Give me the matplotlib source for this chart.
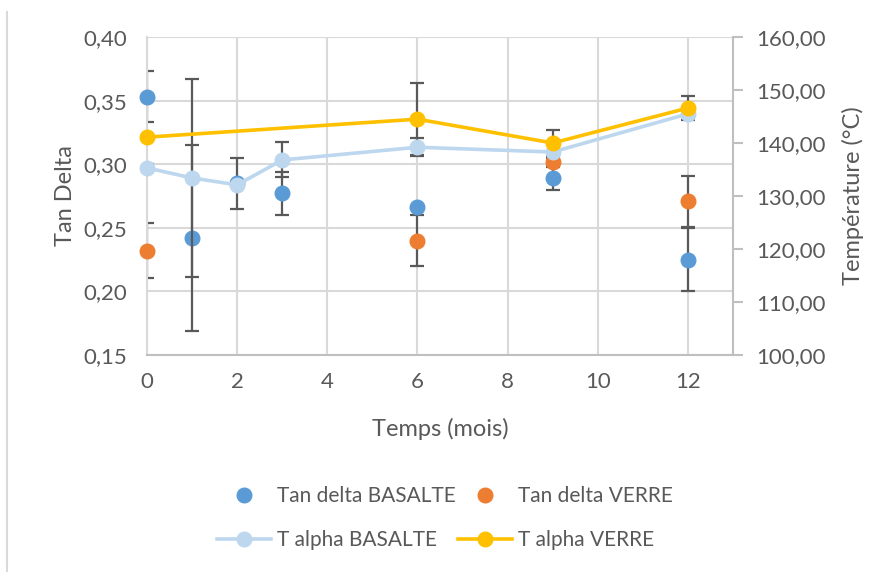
import numpy as np
import matplotlib.pyplot as plt
from matplotlib.lines import Line2D
from matplotlib.ticker import FuncFormatter, MultipleLocator

plt.rcParams['font.family'] = ['Lato', 'DejaVu Sans']

# time (months)
months = [0, 1, 2, 3, 6, 9, 12]
months_verre = [0, 6, 9, 12]

# tan delta (left axis)
tan_basalte = [0.353, 0.242, 0.285, 0.277, 0.266, 0.289, 0.225]
tan_basalte_err = [0.020, 0.073, 0.020, 0.017, 0.0, 0.009, 0.025]
tan_verre = [0.232, 0.240, 0.302, 0.271]
tan_verre_err = [0.0215, 0.020, 0.003, 0.020]

# T alpha (right axis, °C)
talpha_basalte = [135.3, 133.4, 132.1, 136.8, 139.2, 138.3, 145.5]
talpha_basalte_err = [0.8, 18.7, 0.0, 3.3, 1.7, 0.0, 0.5]
talpha_verre = [141.1, 144.5, 140.0, 146.6]
talpha_verre_err = [0.6, 6.8, 2.5, 2.3]

c_blue = '#5B9BD5'
c_orange = '#ED7D31'
c_lblue = '#BDD7EE'
c_yellow = '#FFC000'
c_text = '#595959'
c_grid = '#D9D9D9'
c_err = '#595959'
fs_tick = 16
fs_title = 17
fs_leg = 15

fig = plt.figure(figsize=(8.83, 5.72), dpi=100)
ax = fig.add_axes([147/883, 1-355/572, (733-147)/883, (355-37)/572])
ax2 = ax.twinx()

ebkw = dict(fmt='none', ecolor=c_err, elinewidth=1.6, capsize=5, capthick=1.6, zorder=2)

# error bars first, markers on top
ax.errorbar(months, tan_basalte, yerr=tan_basalte_err, **ebkw)
ax.errorbar(months_verre, tan_verre, yerr=tan_verre_err, **ebkw)
h1, = ax.plot(months, tan_basalte, 'o', color=c_blue, ms=10.5, mec=c_blue, zorder=3,
              clip_on=False, label='Tan delta BASALTE')
h2, = ax.plot(months_verre, tan_verre, 'o', color=c_orange, ms=10.5, mec=c_orange, zorder=3,
              clip_on=False, label='Tan delta VERRE')

ax2.errorbar(months, talpha_basalte, yerr=talpha_basalte_err, **ebkw)
ax2.errorbar(months_verre, talpha_verre, yerr=talpha_verre_err, **ebkw)
h3, = ax2.plot(months, talpha_basalte, '-o', color=c_lblue, lw=2.6, ms=10.5, zorder=3,
               clip_on=False, label='T alpha BASALTE')
h4, = ax2.plot(months_verre, talpha_verre, '-o', color=c_yellow, lw=2.6, ms=10.5, zorder=4,
               clip_on=False, label='T alpha VERRE')

ax.set_xlim(0, 13)
ax.set_ylim(0.15, 0.40)
ax2.set_ylim(100, 160)
ax.xaxis.set_major_locator(MultipleLocator(2))
ax.yaxis.set_major_locator(MultipleLocator(0.05))
ax2.yaxis.set_major_locator(MultipleLocator(10))
ax.yaxis.set_major_formatter(FuncFormatter(lambda v, p: f'{v:.2f}'.replace('.', ',')))
ax2.yaxis.set_major_formatter(FuncFormatter(lambda v, p: f'{v:.2f}'.replace('.', ',')))

ax.grid(True, color=c_grid, lw=1.5)
ax.set_axisbelow(True)
for s in ['top', 'right']:
    ax.spines[s].set_visible(False)
for s in ['top', 'left', 'bottom']:
    ax2.spines[s].set_visible(False)
ax.spines['left'].set_color(c_grid)
ax.spines['left'].set_linewidth(1.5)
ax.spines['bottom'].set_color('#BFBFBF')
ax.spines['bottom'].set_linewidth(1.5)
ax2.spines['right'].set_color('#BFBFBF')
ax2.spines['right'].set_linewidth(1.5)

ax.tick_params(axis='y', length=0, labelsize=fs_tick, labelcolor=c_text, pad=14)
ax.tick_params(axis='x', length=0, labelsize=fs_tick, labelcolor=c_text, pad=12)
ax2.tick_params(axis='y', length=7, width=1.5, color='#BFBFBF', labelsize=fs_tick,
                labelcolor=c_text, pad=10)

ax.set_xlabel('Temps (mois)', fontsize=fs_title, color=c_text, labelpad=19)
ax.set_ylabel('Tan Delta', fontsize=fs_title, color=c_text)
ax.yaxis.set_label_coords((76 - 147) / 586, 0.5)
ax2.set_ylabel('Température (°C)', fontsize=fs_title, color=c_text)
ax2.yaxis.set_label_coords((842 - 147) / 586, 0.5)

fig.legend(handles=[h1, h3, h2, h4], ncol=2, loc='center', bbox_to_anchor=(445/883, 1-518/572),
           frameon=False, fontsize=fs_leg, labelcolor=c_text, handlelength=2.6,
           columnspacing=0.1, handletextpad=0.3, labelspacing=1.15)

# chart border line on the left
fig.add_artist(Line2D([7/883, 7/883], [0, 1-12/572], color='#D9D9D9', lw=1.5))

fig.savefig('out.png', dpi=100)
